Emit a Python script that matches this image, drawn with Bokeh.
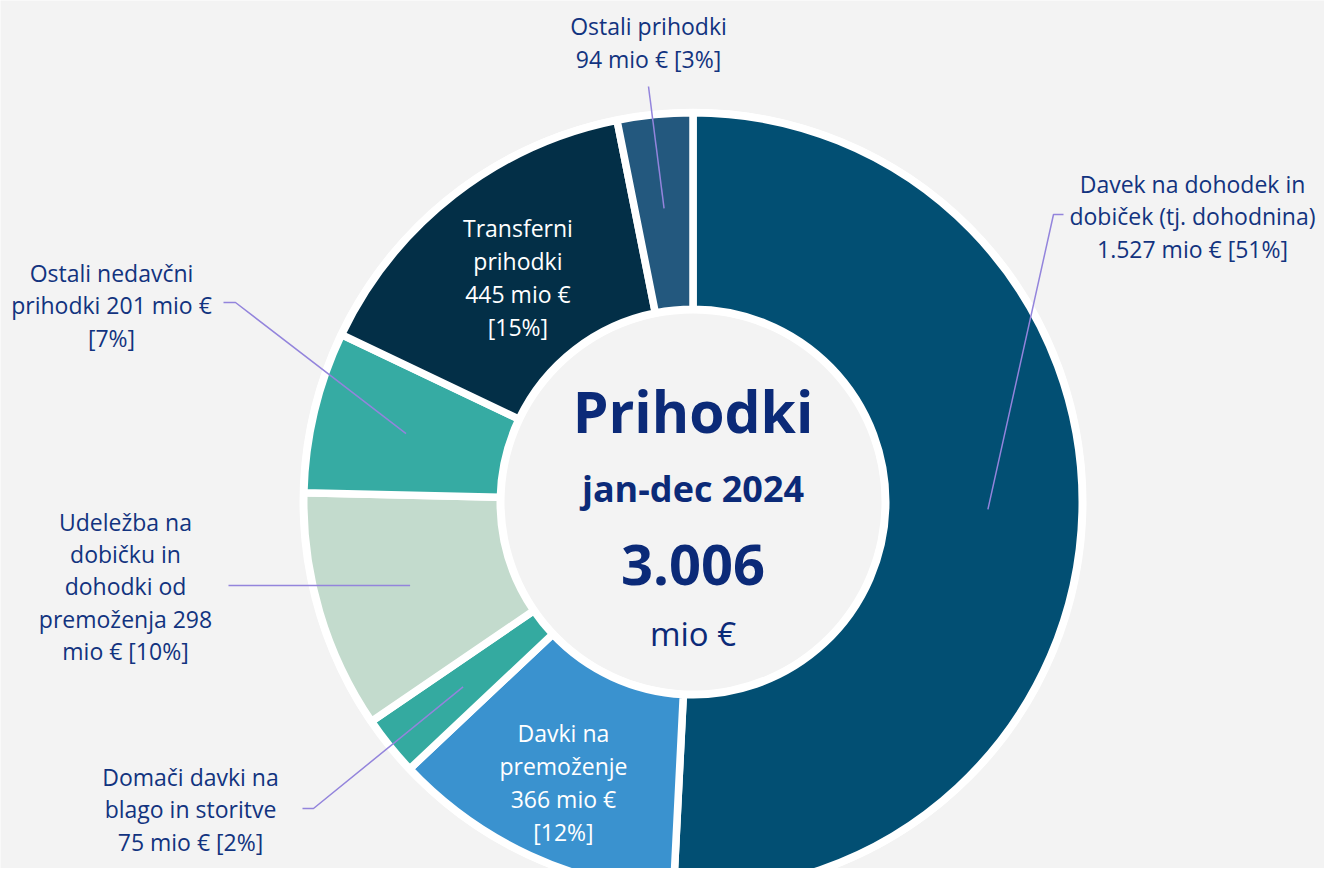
import numpy as np
from bokeh.plotting import figure
from bokeh.models import Range1d, ColumnDataSource
from bokeh.core.properties import value
from bokeh.embed import file_html
from bokeh.resources import INLINE

# ---- data ----
categories = [
    "Davek na dohodek in dobiček (tj. dohodnina)",
    "Davki na premoženje",
    "Domači davki na blago in storitve",
    "Udeležba na dobičku in dohodki od premoženja",
    "Ostali nedavčni prihodki",
    "Transferni prihodki",
    "Ostali prihodki",
]
values = [1527, 366, 75, 298, 201, 445, 94]
percents = [51, 12, 2, 10, 7, 15, 3]
label_texts = [
    "Davek na dohodek in\ndobiček (tj. dohodnina)\n1.527 mio € [51%]",
    "Davki na\npremoženje\n366 mio €\n[12%]",
    "Domači davki na\nblago in storitve\n75 mio € [2%]",
    "Udeležba na\ndobičku in\ndohodki od\npremoženja 298\nmio € [10%]",
    "Ostali nedavčni\nprihodki 201 mio €\n[7%]",
    "Transferni\nprihodki\n445 mio €\n[15%]",
    "Ostali prihodki\n94 mio € [3%]",
]
colors = ["#024f73", "#3a92cf", "#34aaa0", "#c3dbcd", "#36aba3", "#032f47", "#23587e"]
center_title = "Prihodki"
center_period = "jan-dec 2024"
center_total = "3.006"
center_unit = "mio €"

# ---- layout ----
W, H = 1324, 868
BG = "#f3f3f3"
TXT = "#12337f"
CTXT = "#0b2a78"
LEAD = "#9384dc"
FONT = "Open Sans"
cx, cy = 692.5, -501.5
r_out_col, r_in_col = 385.5, 196.5
gap = 7.5
r_lab = 295.0

inside_r = {1: 309.0, 5: 285.0}
outer_pos = {
    0: (1192, -216),
    2: (190, -809),
    3: (125, -586),
    4: (111, -305),
    6: (648, -42),
}
leader_pts = {
    0: [(1053, -214), (1063, -214)],
    2: [(313, -808), (302, -808)],
    3: [(228, None)],
    4: [(235, -302), (223, -302)],
    6: [(648, -86)],
}

total = sum(values)
frac = np.array(values) / total
cum_end = np.cumsum(frac)
cum_start = cum_end - frac
ang_start = np.pi / 2 - cum_end * 2 * np.pi
ang_end = np.pi / 2 - cum_start * 2 * np.pi
mid = (ang_start + ang_end) / 2

p = figure(width=W, height=H, output_backend="svg", toolbar_location=None,
           x_range=Range1d(0, W), y_range=Range1d(-H, 0),
           min_border=0, outline_line_color=None,
           background_fill_color=BG, border_fill_color=BG)
p.axis.visible = False
p.grid.visible = False

# white backing ring
p.annulus(x=cx, y=cy, inner_radius=r_in_col - 8, outer_radius=r_out_col + 8,
          fill_color="white", line_color=None)

src = ColumnDataSource(dict(start=ang_start, end=ang_end, color=colors))
p.annular_wedge(x=cx, y=cy, inner_radius=r_in_col - gap / 2,
                outer_radius=r_out_col + gap / 2,
                start_angle="start", end_angle="end", fill_color="color",
                line_color="white", line_width=gap, source=src)

# leader lines
for i, pts in leader_pts.items():
    sx = cx + r_lab * np.cos(mid[i])
    sy = cy + r_lab * np.sin(mid[i])
    xs = [sx] + [q[0] for q in pts]
    ys = [sy] + [(q[1] if q[1] is not None else sy) for q in pts]
    p.line(xs, ys, line_color=LEAD, line_width=1.5)

# inside labels
ids = sorted(inside_r)
ix = [cx + inside_r[i] * np.cos(mid[i]) for i in ids]
iy = [cy + inside_r[i] * np.sin(mid[i]) for i in ids]
it = [label_texts[i] for i in ids]
p.text(x=ix, y=iy, text=it, text_color="white", text_font=value(FONT),
       text_font_size="23px", text_align="center", text_baseline="middle",
       text_line_height=1.03)

# outside labels
ods = sorted(outer_pos)
ox = [outer_pos[i][0] for i in ods]
oy = [outer_pos[i][1] for i in ods]
ot = [label_texts[i] for i in ods]
p.text(x=ox, y=oy, text=ot, text_color=TXT, text_font=value(FONT),
       text_font_size="23px", text_align="center", text_baseline="middle",
       text_line_height=1.01)

# center texts
p.text(x=[cx], y=[-410], text=[center_title], text_color=CTXT, text_font=value(FONT),
       text_font_size="57px", text_font_style="bold", text_align="center", text_baseline="middle")
p.text(x=[cx], y=[-488], text=[center_period], text_color=CTXT, text_font=value(FONT),
       text_font_size="36px", text_font_style="bold", text_align="center", text_baseline="middle")
p.text(x=[cx], y=[-564], text=[center_total], text_color=CTXT, text_font=value(FONT),
       text_font_size="56px", text_font_style="bold", text_align="center", text_baseline="middle")
p.text(x=[cx], y=[-633], text=[center_unit], text_color=CTXT, text_font=value(FONT),
       text_font_size="33px", text_align="center", text_baseline="middle")

open("out.html", "w").write(file_html(p, INLINE))
